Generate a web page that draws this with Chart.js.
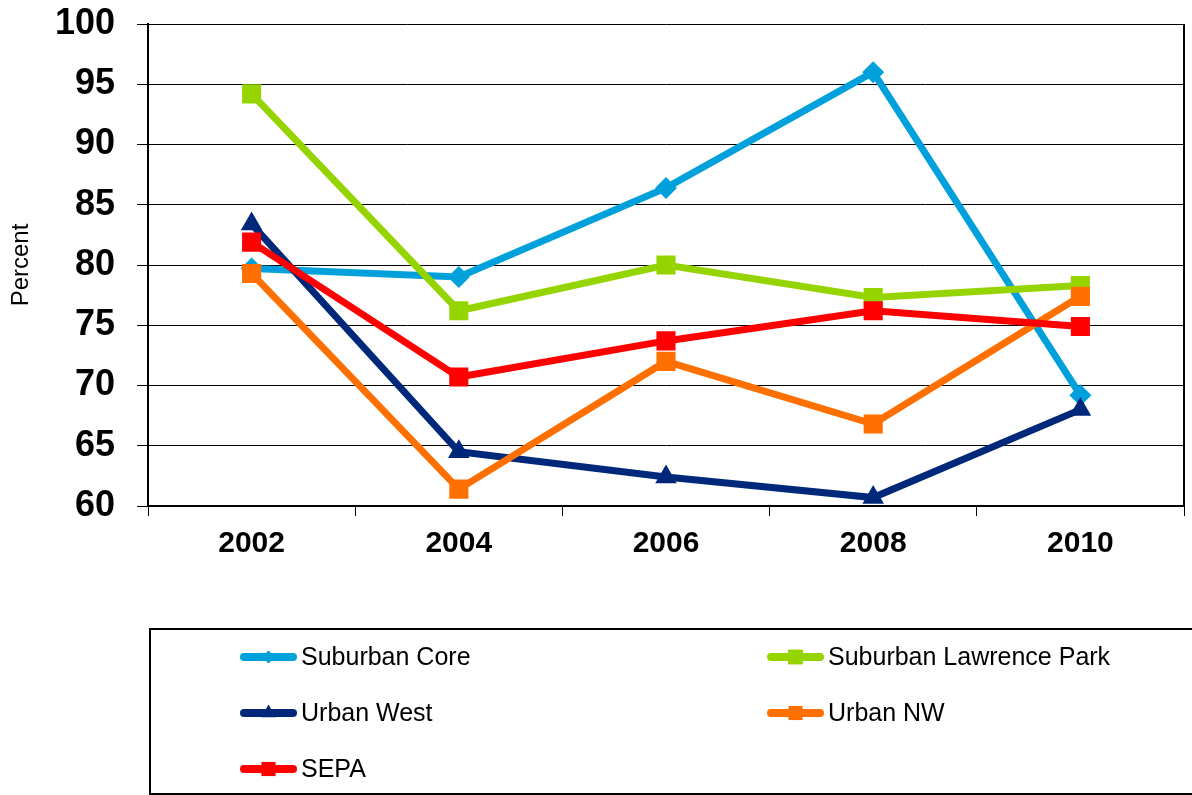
<!DOCTYPE html>
<html>
<head>
<meta charset="utf-8">
<script src="https://cdn.jsdelivr.net/npm/chart.js@4/dist/chart.umd.min.js"></script>
<style>
  html, body { margin: 0; padding: 0; background: #fff; }
  #wrap { position: relative; width: 1192px; height: 795px; }
  canvas { display: block; }
</style>
</head>
<body>
<div id="wrap"><canvas id="c" width="1192" height="795"></canvas></div>
<script>
// ---- data ----
const years = ['2002', '2004', '2006', '2008', '2010'];
const suburbanCore = [79.7, 79.0, 86.4, 96.0, 69.2];
const suburbanLawrencePark = [94.2, 76.2, 80.0, 77.3, 78.3];
const urbanWest = [83.4, 64.5, 62.4, 60.7, 68.0];
const urbanNW = [79.3, 61.4, 72.0, 66.8, 77.4];
const sepa = [81.9, 70.7, 73.7, 76.2, 74.9];
const seriesNames = ['Suburban Core', 'Suburban Lawrence Park', 'Urban West', 'Urban NW', 'SEPA'];
const yTicks = [60, 65, 70, 75, 80, 85, 90, 95, 100];

const FONT = '"Liberation Sans", Arial, Helvetica, sans-serif';

const styles = [
  { color: '#00A0DC', point: 'rectRot', r: 11, lr: 6.5 },
  { color: '#96D400', point: 'rect', r: 13.5, lr: 10.5 },
  { color: '#00287A', point: 'triangle', r: 12.5, lr: 8.5 },
  { color: '#FF7000', point: 'rect', r: 13.5, lr: 10 },
  { color: '#FF0000', point: 'rect', r: 13.5, lr: 10 }
];
const seriesData = [suburbanCore, suburbanLawrencePark, urbanWest, urbanNW, sepa];

const datasets = seriesData.map((d, i) => ({
  label: seriesNames[i],
  data: d,
  borderColor: styles[i].color,
  backgroundColor: styles[i].color,
  pointBackgroundColor: styles[i].color,
  pointBorderWidth: 0,
  borderWidth: 7,
  pointStyle: styles[i].point,
  pointRadius: styles[i].r,
  pointHoverRadius: styles[i].r,
  tension: 0,
  order: 10 - i,
  _legendR: styles[i].lr
}));

const frame = {
  id: 'frame',
  beforeDatasetsDraw(chart) {
    const { ctx, chartArea: a } = chart;
    ctx.save();
    ctx.strokeStyle = '#000';
    ctx.lineWidth = 2;
    ctx.beginPath();
    ctx.moveTo(a.right, a.top);
    ctx.lineTo(a.right, a.bottom);
    ctx.stroke();
    ctx.restore();
  }
};

const legendBox = {
  id: 'legendBox',
  afterDraw(chart) {
    const ctx = chart.ctx;
    ctx.save();
    ctx.strokeStyle = '#000';
    ctx.lineWidth = 2;
    ctx.strokeRect(150, 629, 1100, 165);
    const cols = [240, 767];
    const rows = [657, 713, 769];
    const iconW = 57;
    chart.data.datasets.forEach((ds, i) => {
      const ix = cols[i % 2];
      const iy = rows[Math.floor(i / 2)];
      ctx.beginPath();
      ctx.lineCap = 'round';
      ctx.lineWidth = 8;
      ctx.strokeStyle = ds.borderColor;
      ctx.moveTo(ix + 4, iy);
      ctx.lineTo(ix + iconW - 4, iy);
      ctx.stroke();
      ctx.fillStyle = ds.borderColor;
      Chart.helpers.drawPoint(ctx, { pointStyle: ds.pointStyle, radius: ds._legendR, borderWidth: 0, rotation: 0 }, ix + iconW / 2, iy);
      ctx.fillStyle = '#000';
      ctx.font = '25px ' + FONT;
      ctx.textBaseline = 'middle';
      ctx.textAlign = 'left';
      ctx.fillText(ds.label, ix + iconW + 4, iy + 1);
    });
    ctx.restore();
  }
};

new Chart(document.getElementById('c'), {
  type: 'line',
  data: { labels: years, datasets },
  plugins: [frame, legendBox],
  options: {
    responsive: false,
    animation: false,
    events: [],
    layout: { autoPadding: false, padding: { top: 24, right: 8, bottom: 229, left: 0 } },
    plugins: { legend: { display: false }, tooltip: { enabled: false } },
    scales: {
      x: {
        type: 'category',
        offset: true,
        afterFit(s) { s.height = 60; s.paddingLeft = 0; s.paddingRight = 0; },
        grid: { display: true, drawOnChartArea: false, drawTicks: true, tickLength: 10, offset: true, color: '#000', lineWidth: 1 },
        border: { display: true, color: '#000', width: 2 },
        ticks: { color: '#000', font: { family: FONT, size: 30, weight: 'bold' }, padding: 10, maxRotation: 0 }
      },
      y: {
        min: 60,
        max: 100,
        afterFit(s) { s.width = 148; s.paddingTop = 0; s.paddingBottom = 0; s.paddingLeft = 0; s.paddingRight = 0; },
        afterBuildTicks(s) { s.ticks = yTicks.map(v => ({ value: v })); },
        grid: { color: '#000', lineWidth: 1, drawTicks: true, tickLength: 11 },
        border: { display: true, color: '#000', width: 2 },
        ticks: { color: '#000', font: { family: FONT, size: 36, weight: 'bold' }, padding: 22 },
        title: { display: true, text: 'Percent', color: '#000', font: { family: FONT, size: 24 }, padding: { top: 7, bottom: 0 } }
      }
    }
  }
});
</script>
</body>
</html>
